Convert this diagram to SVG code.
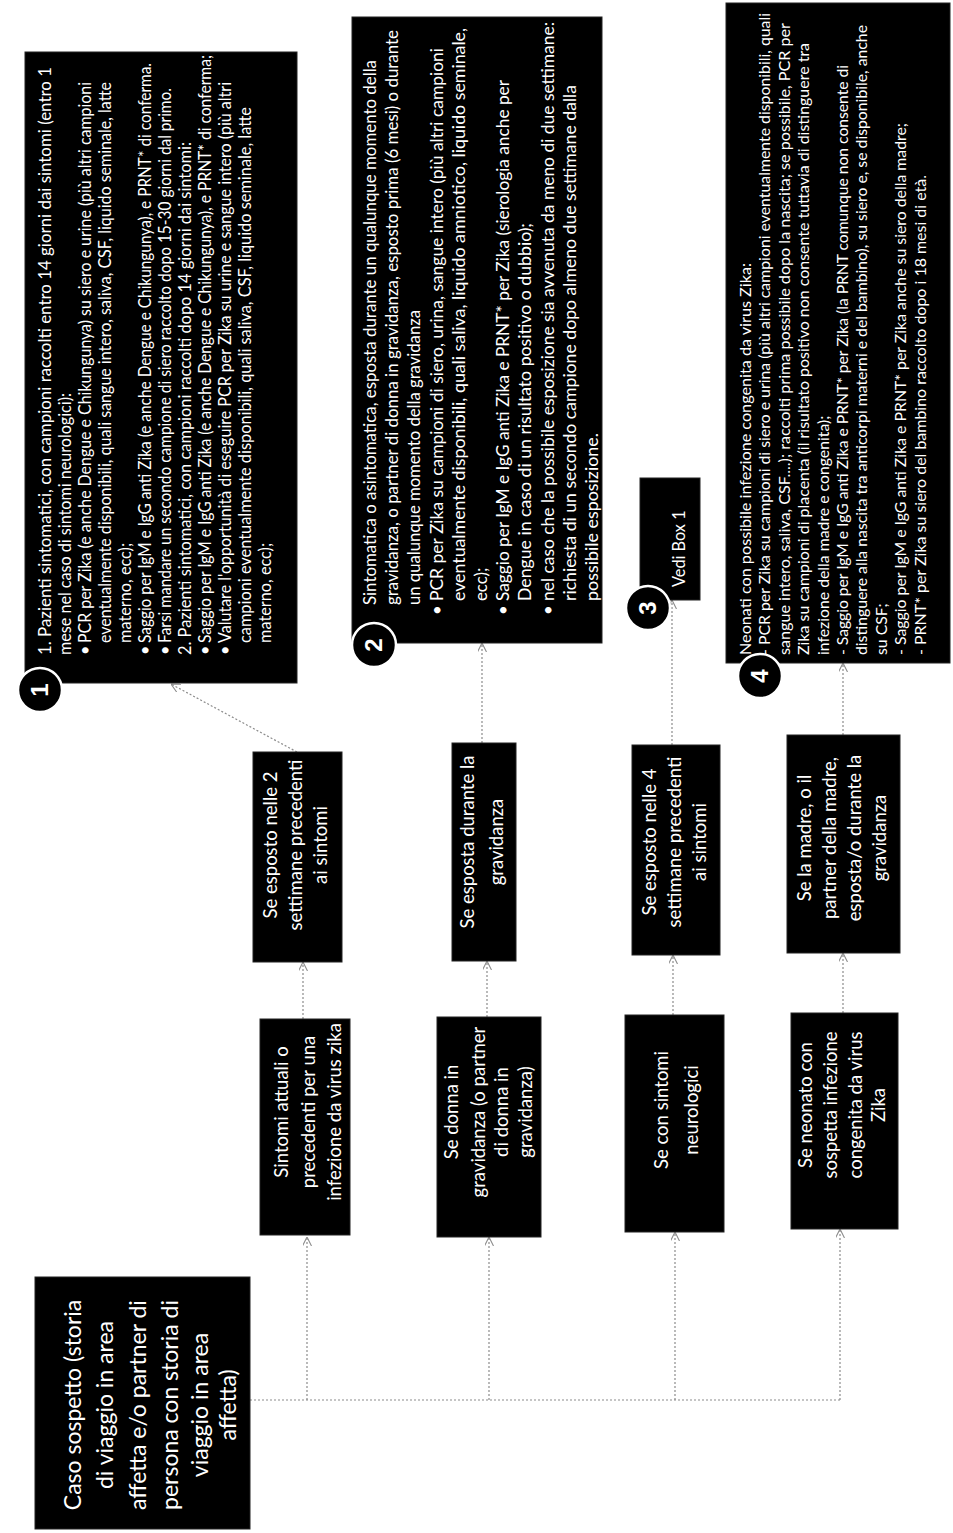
<svg xmlns="http://www.w3.org/2000/svg" width="953" height="1533" viewBox="0 0 953 1533">
<style>
.box{fill:#000;stroke:#222;stroke-width:1}
.t{fill:#fff;font-family:Lato,"Liberation Sans",Arial,sans-serif}
.c{text-anchor:middle}
.caso{font-size:23px}
.lv{font-size:18.5px}
.d1{font-size:16.3px}
.d2{font-size:16.8px}
.d4{font-size:15.8px}
.conn{fill:none;stroke:#8c8c8c;stroke-width:1.2;stroke-dasharray:2 2}
.num{fill:#000;stroke:#fff;stroke-width:2.5}
.nt{fill:#fff;font-family:"Liberation Sans",Arial,sans-serif;font-weight:bold;font-size:24px;text-anchor:middle}
</style>
<defs>
<marker id="arr" viewBox="0 0 10 10" refX="10" refY="5" markerWidth="9" markerHeight="9" orient="auto" markerUnits="userSpaceOnUse">
<path d="M0,0 L10,5 L0,10" fill="none" stroke="#8c8c8c" stroke-width="1.2"/>
</marker>
</defs>
<rect width="953" height="1533" fill="#fff"/>
<g transform="matrix(0,-1,1,0,0,1533)">
<g id="connectors">
<path class="conn" d="M133,250 V840"/>
<path class="conn" d="M133,307 H296" marker-end="url(#arr)"/>
<path class="conn" d="M133,489 H296" marker-end="url(#arr)"/>
<path class="conn" d="M133,675 H301" marker-end="url(#arr)"/>
<path class="conn" d="M133,840 H304" marker-end="url(#arr)"/>
<path class="conn" d="M514,303 H571" marker-end="url(#arr)"/>
<path class="conn" d="M516,487 H572" marker-end="url(#arr)"/>
<path class="conn" d="M518,673 H578" marker-end="url(#arr)"/>
<path class="conn" d="M520,843 H580" marker-end="url(#arr)"/>
<path class="conn" d="M781,297 L849,171" marker-end="url(#arr)"/>
<path class="conn" d="M790,482 H890" marker-end="url(#arr)"/>
<path class="conn" d="M788,672 H933" marker-end="url(#arr)"/>
<path class="conn" d="M798,843 H870" marker-end="url(#arr)"/>
</g>
<g id="caso">
<rect class="box" x="4" y="35" width="252" height="215"/>
<text class="t c caso"><tspan x="128" y="81">Caso sospetto (storia</tspan><tspan x="128" y="113">di viaggio in area</tspan><tspan x="128" y="146">affetta e/o partner di</tspan><tspan x="128" y="178">persona con storia di</tspan><tspan x="128" y="208">viaggio in area</tspan><tspan x="128" y="236">affetta)</tspan></text>
</g>
<g id="sintomi">
<rect class="box" x="298" y="260" width="216" height="90"/>
<text class="t c lv"><tspan x="421" y="288">Sintomi attuali o</tspan><tspan x="421" y="315">precedenti per una</tspan><tspan x="421" y="341">infezione da virus zika</tspan></text>
</g>
<g id="donna">
<rect class="box" x="296" y="437" width="220" height="104"/>
<text class="t c lv"><tspan x="421" y="458">Se donna in</tspan><tspan x="421" y="485">gravidanza (o partner</tspan><tspan x="421" y="508">di donna in</tspan><tspan x="421" y="532">gravidanza)</tspan></text>
</g>
<g id="neuro">
<rect class="box" x="301" y="625" width="217" height="99"/>
<text class="t c lv"><tspan x="423" y="668">Se con sintomi</tspan><tspan x="423" y="698">neurologici</tspan></text>
</g>
<g id="neonato">
<rect class="box" x="304" y="791" width="216" height="107"/>
<text class="t c lv"><tspan x="428" y="812">Se neonato con</tspan><tspan x="428" y="837">sospetta infezione</tspan><tspan x="428" y="862">congenita da virus</tspan><tspan x="428" y="885">Zika</tspan></text>
</g>
<g id="esposto2">
<rect class="box" x="571" y="253" width="210" height="89"/>
<text class="t c lv"><tspan x="688" y="277">Se esposto nelle 2</tspan><tspan x="688" y="302">settimane precedenti</tspan><tspan x="688" y="327">ai sintomi</tspan></text>
</g>
<g id="espostagrav">
<rect class="box" x="572" y="452" width="218" height="64"/>
<text class="t c lv"><tspan x="691" y="474">Se esposta durante la</tspan><tspan x="691" y="503">gravidanza</tspan></text>
</g>
<g id="esposto4">
<rect class="box" x="578" y="632" width="210" height="88"/>
<text class="t c lv"><tspan x="691" y="656">Se esposto nelle 4</tspan><tspan x="691" y="681">settimane precedenti</tspan><tspan x="691" y="706">ai sintomi</tspan></text>
</g>
<g id="madre">
<rect class="box" x="580" y="787" width="218" height="113"/>
<text class="t c lv"><tspan x="695" y="811">Se la madre, o il</tspan><tspan x="695" y="836">partner della madre,</tspan><tspan x="695" y="861">esposta/o durante la</tspan><tspan x="695" y="886">gravidanza</tspan></text>
</g>
<g id="box1">
<rect class="box" x="850" y="25" width="631" height="272"/>
<g class="t d1">
<text x="878" y="51" textLength="588" lengthAdjust="spacingAndGlyphs">1. Pazienti sintomatici, con campioni raccolti entro 14 giorni dai sintomi (entro 1</text>
<text x="878" y="71" textLength="262" lengthAdjust="spacingAndGlyphs">mese nel caso di sintomi neurologici):</text>
<text x="878" y="91">•</text>
<text x="890" y="91" textLength="561" lengthAdjust="spacingAndGlyphs">PCR per Zika (e anche Dengue e Chikungunya) su siero e urine (più altri campioni</text>
<text x="890" y="111" textLength="561" lengthAdjust="spacingAndGlyphs">eventualmente disponibili, quali sangue intero, saliva, CSF, liquido seminale, latte</text>
<text x="890" y="131">materno, ecc);</text>
<text x="878" y="151">•</text>
<text x="890" y="151" textLength="580" lengthAdjust="spacingAndGlyphs">Saggio per IgM e IgG anti Zika (e anche Dengue e Chikungunya), e PRNT* di conferma.</text>
<text x="878" y="171">•</text>
<text x="890" y="171" textLength="555" lengthAdjust="spacingAndGlyphs">Farsi mandare un secondo campione di siero raccolto dopo 15-30 giorni dal primo.</text>
<text x="878" y="191" textLength="513" lengthAdjust="spacingAndGlyphs">2. Pazienti sintomatici, con campioni raccolti dopo 14 giorni dai sintomi:</text>
<text x="878" y="211">•</text>
<text x="890" y="211" textLength="588" lengthAdjust="spacingAndGlyphs">Saggio per IgM e IgG anti Zika (e anche Dengue e Chikungunya), e PRNT* di conferma;</text>
<text x="878" y="231">•</text>
<text x="890" y="231" textLength="561" lengthAdjust="spacingAndGlyphs">Valutare l'opportunità di eseguire PCR per Zika su urine e sangue intero (più altri</text>
<text x="890" y="251" textLength="536" lengthAdjust="spacingAndGlyphs">campioni eventualmente disponibili, quali saliva, CSF, liquido seminale, latte</text>
<text x="890" y="271">materno, ecc);</text>
</g>
<circle class="num" cx="843" cy="40" r="22"/>
<text class="nt" x="843" y="48">1</text>
</g>
<g id="box2">
<rect class="box" x="890" y="352" width="626" height="250"/>
<g class="t d2">
<text x="928" y="376" textLength="545" lengthAdjust="spacingAndGlyphs">Sintomatica o asintomatica, esposta durante un qualunque momento della</text>
<text x="928" y="398" textLength="575" lengthAdjust="spacingAndGlyphs">gravidanza, o partner di donna in gravidanza, esposto prima (6 mesi) o durante</text>
<text x="928" y="420" textLength="295" lengthAdjust="spacingAndGlyphs">un qualunque momento della gravidanza</text>
<text x="918" y="443">•</text>
<text x="932" y="443" textLength="553" lengthAdjust="spacingAndGlyphs">PCR per Zika su campioni di siero, urina, sangue intero (più altri campioni</text>
<text x="932" y="465" textLength="573" lengthAdjust="spacingAndGlyphs">eventualmente disponibili, quali saliva, liquido amniotico, liquido seminale,</text>
<text x="932" y="487">ecc);</text>
<text x="918" y="509">•</text>
<text x="932" y="509" textLength="521" lengthAdjust="spacingAndGlyphs">Saggio per IgM e IgG anti Zika e PRNT* per Zika (sierologia anche per</text>
<text x="932" y="531" textLength="378" lengthAdjust="spacingAndGlyphs">Dengue in caso di un risultato positivo o dubbio);</text>
<text x="918" y="554">•</text>
<text x="932" y="554" textLength="579" lengthAdjust="spacingAndGlyphs">nel caso che la possibile esposizione sia avvenuta da meno di due settimane:</text>
<text x="932" y="576" textLength="516" lengthAdjust="spacingAndGlyphs">richiesta di un secondo campione dopo almeno due settimane dalla</text>
<text x="932" y="598" textLength="168" lengthAdjust="spacingAndGlyphs">possibile esposizione.</text>
</g>
<circle class="num" cx="888" cy="374" r="22"/>
<text class="nt" x="888" y="382">2</text>
</g>
<g id="box3">
<rect class="box" x="933" y="640" width="122" height="60"/>
<text class="t d1" x="946" y="685">Vedi Box  1</text>
<circle class="num" cx="925" cy="648" r="22"/>
<text class="nt" x="925" y="656">3</text>
</g>
<g id="box4">
<rect class="box" x="870" y="726" width="660" height="224"/>
<g class="t d4">
<text x="878" y="751" textLength="392" lengthAdjust="spacingAndGlyphs">Neonati con possibile infezione congenita da virus Zika:</text>
<text x="878" y="770" textLength="642" lengthAdjust="spacingAndGlyphs">- PCR per Zika su campioni di siero e urina (più altri campioni eventualmente disponibili, quali</text>
<text x="878" y="790" textLength="632" lengthAdjust="spacingAndGlyphs">sangue intero, saliva, CSF....); raccolti prima possibile dopo la nascita; se possibile, PCR per</text>
<text x="878" y="809" textLength="612" lengthAdjust="spacingAndGlyphs">Zika su campioni di placenta (il risultato positivo non consente tuttavia di distinguere tra</text>
<text x="878" y="829">infezione della madre e congenita);</text>
<text x="878" y="848" textLength="590" lengthAdjust="spacingAndGlyphs">- Saggio per IgM e IgG anti Zika e PRNT* per Zika (la PRNT comunque non consente di</text>
<text x="878" y="867" textLength="630" lengthAdjust="spacingAndGlyphs">distinguere alla nascita tra anticorpi materni e del bambino), su siero e, se disponibile, anche</text>
<text x="878" y="887">su CSF;</text>
<text x="878" y="906" textLength="532" lengthAdjust="spacingAndGlyphs">- Saggio per IgM e IgG anti Zika e PRNT* per Zika anche su siero della madre;</text>
<text x="878" y="926" textLength="480" lengthAdjust="spacingAndGlyphs">- PRNT* per Zika su siero del bambino raccolto dopo i 18 mesi di età.</text>
</g>
<circle class="num" cx="857" cy="760" r="22"/>
<text class="nt" x="857" y="768">4</text>
</g>
</g>
</svg>
